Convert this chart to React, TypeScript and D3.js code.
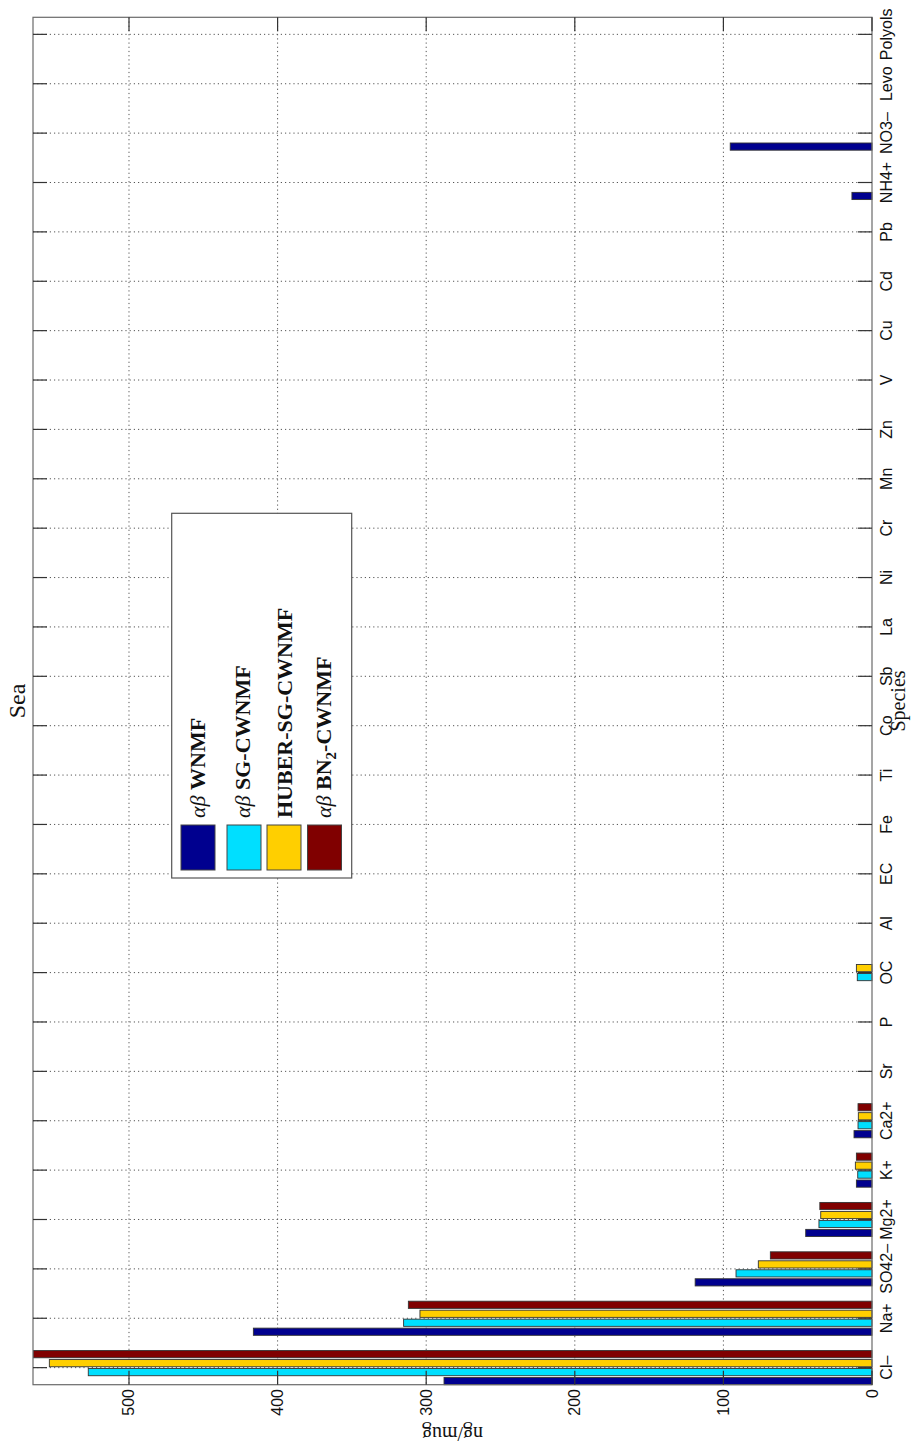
import React from "react";
import * as d3 from "d3";

const species = ["Cl–", "Na+", "SO42–", "Mg2+", "K+", "Ca2+", "Sr", "P", "OC", "Al", "EC", "Fe", "Ti", "Co", "Sb", "La", "Ni", "Cr", "Mn", "Zn", "V", "Cu", "Cd", "Pb", "NH4+", "NO3–", "Levo", "Polyols"];

const wnmf = [288, 416.3, 119, 44.6, 10.5, 12.1, 0, 0, 0, 0, 0, 0, 0, 0, 0, 0, 0, 0, 0, 0, 0, 0, 0, 0, 13.5, 95.4, 0, 0];
const sgCwnmf = [527.4, 315.2, 91.5, 35.7, 9.6, 9.4, 0, 0, 9.9, 0, 0, 0, 0, 0, 0, 0, 0, 0, 0, 0, 0, 0, 0, 0, 0, 0, 0, 0];
const huberSgCwnmf = [553.6, 304.2, 76.5, 34.5, 11.2, 9.2, 0, 0, 10.5, 0, 0, 0, 0, 0, 0, 0, 0, 0, 0, 0, 0, 0, 0, 0, 0, 0, 0, 0];
const bn2Cwnmf = [564.6, 312, 68.4, 35.1, 10.5, 9.4, 0, 0, 0, 0, 0, 0, 0, 0, 0, 0, 0, 0, 0, 0, 0, 0, 0, 0, 0, 0, 0, 0];

const seriesValues = [wnmf, sgCwnmf, huberSgCwnmf, bn2Cwnmf];
const seriesColors = ["#00008F", "#00DFFF", "#FFCF00", "#800000"];
const valueTicks = [0, 100, 200, 300, 400, 500];

const W = 919;
const H = 1446;
const LEFT = 33;
const RIGHT = 872;
const TOP = 17.3;
const BOTTOM = 1384.7;

const nSeries = 4;
const groupWidth = Math.min(0.8, nSeries / (nSeries + 1.5));
const pitch = groupWidth / nSeries;
const barW = 0.8 * pitch;
const halfExtent = 1.5 * pitch + barW / 2;

export default function App() {
  const maxV = d3.max(seriesValues.flat()) as number;
  const xScale = d3.scaleLinear().domain([0, maxV]).range([RIGHT, LEFT]);
  const yScale = d3
    .scaleLinear()
    .domain([1 - halfExtent, species.length + halfExtent])
    .range([BOTTOM, TOP]);

  const tickLen = 14;
  const gridColor = "#555";

  const legendItems = [
    { parts: [{ t: "αβ", it: true }, { t: " WNMF" }], cx: 198, tx: 204.5 },
    { parts: [{ t: "αβ", it: true }, { t: " SG-CWNMF" }], cx: 244, tx: 249.5 },
    { parts: [{ t: "HUBER-SG-CWNMF" }], cx: 284, tx: 291.5 },
    { parts: [{ t: "αβ", it: true }, { t: " BN" }, { t: "2", sub: true }, { t: "-CWNMF" }], cx: 324.5, tx: 331 },
  ];

  return (
    <svg
      width={W}
      height={H}
      style={{ position: "absolute", left: 0, top: 0, background: "#fff" }}
      xmlns="http://www.w3.org/2000/svg"
    >
      <rect x={0} y={0} width={W} height={H} fill="#fff" />
      {/* grid lines */}
      {species.map((s, i) => (
        <line
          key={"hg" + i}
          x1={LEFT}
          x2={RIGHT}
          y1={yScale(i + 1)}
          y2={yScale(i + 1)}
          stroke={gridColor}
          strokeWidth={1}
          strokeDasharray="1.2,3"
        />
      ))}
      {valueTicks
        .filter((v) => v > 0)
        .map((v) => (
          <line
            key={"vg" + v}
            x1={xScale(v)}
            x2={xScale(v)}
            y1={TOP}
            y2={BOTTOM}
            stroke={gridColor}
            strokeWidth={1}
            strokeDasharray="1.2,3"
          />
        ))}
      {/* bars */}
      {seriesValues.map((vals, k) =>
        vals.map((v, i) => {
          if (v <= 0) return null;
          const c = i + 1 + (k - 1.5) * pitch;
          const y0 = yScale(c + barW / 2);
          const y1 = yScale(c - barW / 2);
          const x0 = xScale(v);
          return (
            <rect
              key={"b" + k + "-" + i}
              x={x0}
              y={y0}
              width={xScale(0) - x0}
              height={y1 - y0}
              fill={seriesColors[k]}
              stroke="#333"
              strokeWidth={0.9}
            />
          );
        })
      )}
      <rect x={0} y={0} width={LEFT} height={H} fill="#fff" />
      {/* box */}
      <rect x={LEFT} y={TOP} width={RIGHT - LEFT} height={BOTTOM - TOP} fill="none" stroke="#6a6a6a" strokeWidth={1.2} />
      {/* category ticks */}
      {species.map((s, i) => (
        <g key={"ct" + i}>
          <line x1={LEFT} x2={LEFT + tickLen} y1={yScale(i + 1)} y2={yScale(i + 1)} stroke="#333" strokeWidth={1.2} />
          <line x1={RIGHT} x2={RIGHT - tickLen} y1={yScale(i + 1)} y2={yScale(i + 1)} stroke="#333" strokeWidth={1.2} />
          <text
            transform={`translate(${886},${yScale(i + 1)}) rotate(-90)`}
            textAnchor="middle"
            dominantBaseline="central"
            fontFamily="Liberation Sans, Arial, sans-serif"
            fontSize={16}
            fill="#111"
          >
            {s}
          </text>
        </g>
      ))}
      {/* value ticks */}
      {valueTicks.map((v) => (
        <g key={"vt" + v}>
          <line x1={xScale(v)} x2={xScale(v)} y1={TOP} y2={TOP + tickLen} stroke="#333" strokeWidth={1.2} />
          <line x1={xScale(v)} x2={xScale(v)} y1={BOTTOM} y2={BOTTOM - tickLen} stroke="#333" strokeWidth={1.2} />
          <text
            transform={`translate(${xScale(v)},${1389}) rotate(-90)`}
            textAnchor="end"
            dominantBaseline="central"
            fontFamily="Liberation Sans, Arial, sans-serif"
            fontSize={16}
            fill="#111"
          >
            {v}
          </text>
        </g>
      ))}
      {/* axis labels & title */}
      <text
        transform={`translate(${(LEFT + RIGHT) / 2},${1427}) rotate(180)`}
        textAnchor="middle"
        fontFamily="Liberation Serif, Times New Roman, serif"
        fontSize={20}
        fill="#111"
      >
        ng/mug
      </text>
      <text
        transform={`translate(${905},${(TOP + BOTTOM) / 2}) rotate(-90)`}
        textAnchor="middle"
        fontFamily="Liberation Serif, Times New Roman, serif"
        fontSize={20}
        fill="#111"
      >
        Species
      </text>
      <text
        transform={`translate(${25},${(TOP + BOTTOM) / 2}) rotate(-90)`}
        textAnchor="middle"
        fontFamily="Liberation Serif, Times New Roman, serif"
        fontSize={24}
        fill="#111"
      >
        Sea
      </text>
      {/* legend */}
      <rect x={171.7} y={513.3} width={180} height={364.7} fill="#fff" stroke="#555" strokeWidth={1.2} />
      {legendItems.map((it, k) => (
        <g key={"lg" + k}>
          <rect x={it.cx - 17} y={825} width={34} height={45} fill={seriesColors[k]} stroke="#444" strokeWidth={1} />
          <text
            transform={`translate(${it.tx},${818}) rotate(-90)`}
            textAnchor="start"
            fontFamily="Liberation Serif, Times New Roman, serif"
            fontSize={22}
            fontWeight="bold"
            fill="#111"
          >
            {it.parts.map((p: any, j: number) => (
              <tspan
                key={j}
                fontStyle={p.it ? "italic" : "normal"}
                fontWeight={p.it ? "normal" : "bold"}
                fontSize={p.sub ? 15 : 22}
                dy={p.sub ? 5 : j > 0 && it.parts[j - 1].sub ? -5 : 0}
              >
                {p.t}
              </tspan>
            ))}
          </text>
        </g>
      ))}
    </svg>
  );
}
